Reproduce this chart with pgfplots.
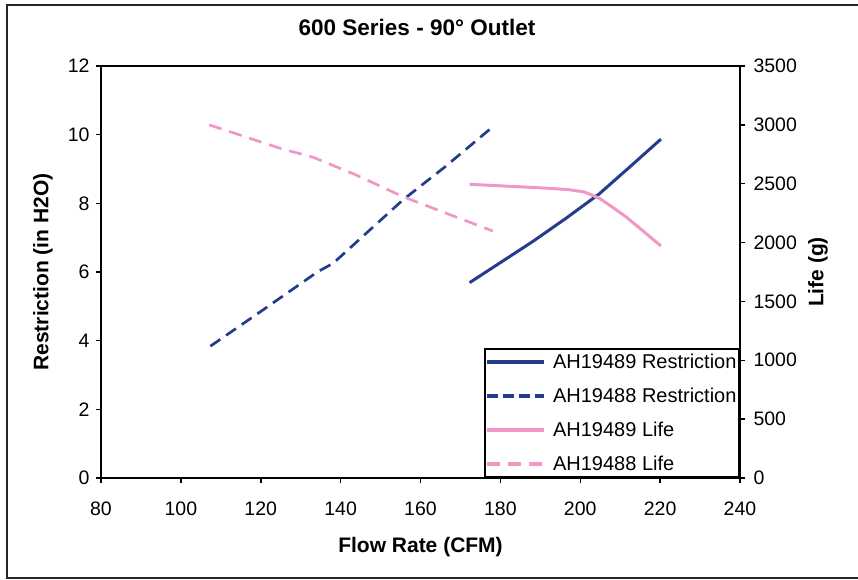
\documentclass[border=0pt]{standalone}
\usepackage{fontspec}
\setmainfont{Liberation Sans}
\usepackage{pgfplots}
\pgfplotsset{compat=1.18}
\definecolor{navy}{RGB}{35,61,140}
\definecolor{pinkl}{RGB}{240,150,200}
\pgfplotsset{
  mystyle/.style={
    scale only axis, width=639pt, height=412pt,
    xmin=80, xmax=240,
    tick align=outside, major tick length=5pt,
    every tick/.style={black, line width=1.5pt},
    /pgf/number format/assume math mode=true,
    /pgf/number format/1000 sep={},
    ticklabel style={font=\fontsize{19.5}{23}\selectfont},
    label style={font=\fontsize{21}{25}\selectfont\bfseries},
    axis line style={line width=2pt},
  }
}
\begin{document}
\begin{tikzpicture}[x=1pt,y=1pt]
\useasboundingbox (-101,-102) rectangle (757,478);
\draw[line width=2.5pt, black!85] (-94,-100) rectangle (760,473);
\node[font=\fontsize{22.5}{26}\selectfont\bfseries] at (316,451) {600 Series - 90° Outlet};
\begin{axis}[mystyle, at={(0,0)}, anchor=south west,
  ymin=0, ymax=12, ytick={0,2,...,12}, xtick={80,100,...,240},
  tick pos=left,
  xticklabel style={yshift=-15pt},
  yticklabel style={xshift=-3pt},
  xlabel={Flow Rate (CFM)}, ylabel={Restriction (in H2O)},
  xlabel style={at={(axis description cs:0.5,-0.1675)}, anchor=center},
  ylabel style={at={(axis description cs:-0.0908,0.5)}, anchor=center},
]
\addplot[navy, line width=3pt, line join=round] coordinates {
 (172.3,5.69) (188,6.88) (196.5,7.57) (204.7,8.27) (212.5,9.07) (220.2,9.87)};
\addplot[navy, line width=2.7pt, line join=round, dash pattern=on 12pt off 7pt] coordinates {
 (107.4,3.84) (120,4.85) (134.3,6.01) (138.1,6.25) (155.6,8.10) (166,9.05) (177.7,10.19)};
\end{axis}
\begin{axis}[mystyle, at={(0,0)}, anchor=south west,
  axis x line=none, axis y line*=right,
  ymin=0, ymax=3500, ytick={0,500,...,3500},
  yticklabel style={xshift=5pt},
  ylabel={Life (g)},
  ylabel style={at={(axis description cs:1.122,0.5)}, anchor=center, rotate=0},
  legend image code/.code={\draw[#1, line width=4pt] (3pt,0pt) -- (60pt,0pt); \path (65pt,0pt);},
  legend cell align=left,
  legend style={at={(rel axis cs:1,0)}, anchor=south east, draw=black, line width=2pt,
    font=\fontsize{20}{24}\selectfont, inner xsep=0.5pt, inner ysep=3pt, row sep=14pt},
]
\addlegendimage{navy, line width=4pt}
\addlegendentry{AH19489 Restriction}
\addlegendimage{navy, line width=4pt, dash pattern=on 11pt off 5pt}
\addlegendentry{AH19488 Restriction}
\addplot[pinkl, line width=3pt, line join=round] coordinates {
 (172.3,2495) (190,2465) (197,2450) (201,2430) (204.8,2376) (208.1,2300) (211.4,2220) (216.4,2079) (220.2,1971)};
\addlegendentry{AH19489 Life}
\addplot[pinkl, line width=2.7pt, line join=round, dash pattern=on 13pt off 8pt] coordinates {
 (107.1,3000) (124.8,2801) (133.1,2725) (143.9,2574) (155.6,2390) (178.1,2098)};
\addlegendentry{AH19488 Life}
\end{axis}
\end{tikzpicture}
\end{document}
